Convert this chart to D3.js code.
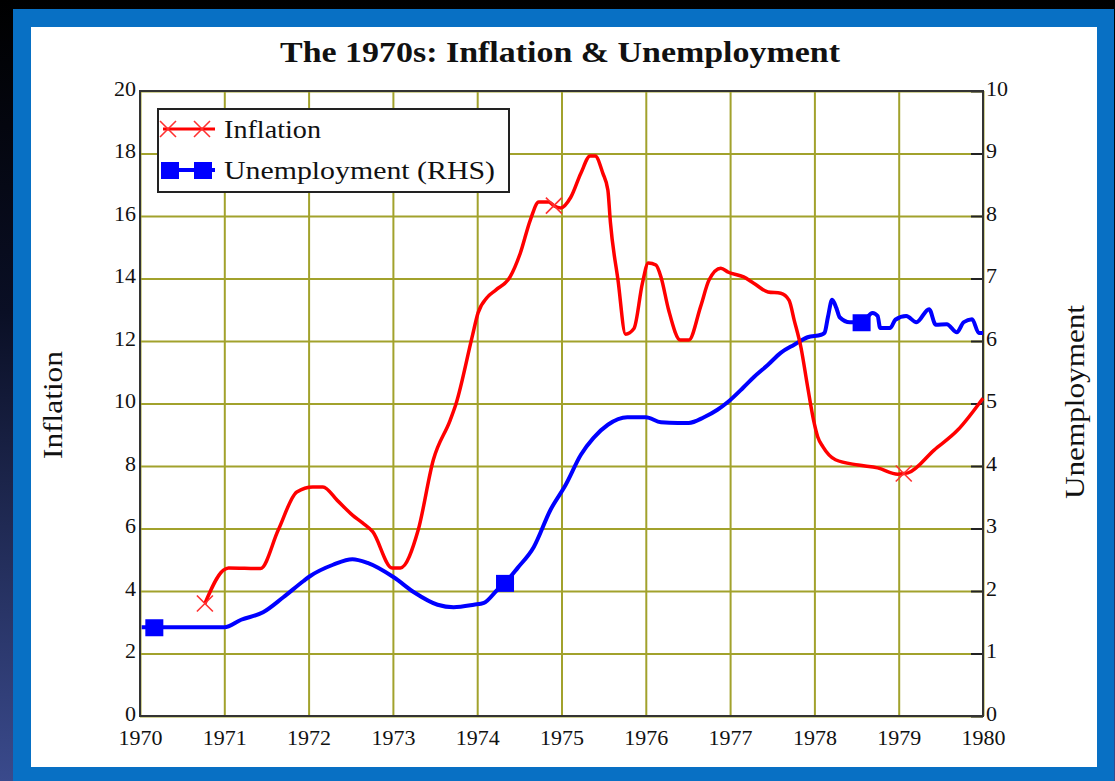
<!DOCTYPE html>
<html>
<head>
<meta charset="utf-8">
<script src="https://cdn.jsdelivr.net/npm/d3@7"></script>
<style>
  body { margin: 0; background: #000; }
  text { font-family: "Liberation Serif", "Times New Roman", serif; fill: #111; }
</style>
</head>
<body>
<div id="chart"></div>
<script>
// inflation (%)
const inflYears = [1970.77, 1970.99, 1971.05, 1971.43, 1971.64, 1971.86, 1972.05, 1972.17, 1972.34, 1972.52,
    1972.64, 1972.76, 1972.99, 1973.09, 1973.30, 1973.48, 1973.68, 1973.75, 1973.94, 1974.01,
    1974.12, 1974.22, 1974.39, 1974.51, 1974.63, 1974.73, 1974.85, 1974.91, 1974.99, 1975.11,
    1975.23, 1975.34, 1975.40, 1975.49, 1975.55, 1975.58, 1975.67, 1975.76, 1975.86, 1975.96,
    1976.03, 1976.12, 1976.18, 1976.27, 1976.41, 1976.51, 1976.65, 1976.75, 1976.89, 1976.98,
    1977.16, 1977.28, 1977.45, 1977.60, 1977.70, 1977.76, 1977.84, 1977.92, 1977.99, 1978.04,
    1978.10, 1978.25, 1978.52, 1978.75, 1978.99, 1979.06, 1979.11, 1979.42, 1979.70, 1980.0];
const inflValues = [3.6, 4.67, 4.74, 4.72, 5.95, 7.17, 7.33, 7.33, 6.9, 6.43,
    6.18, 5.9, 4.74, 4.74, 5.95, 8.2, 9.47, 10.0, 12.13, 12.9,
    13.4, 13.63, 14.05, 14.8, 15.87, 16.45, 16.45, 16.33, 16.26, 16.6,
    17.37, 17.92, 17.92, 17.37, 16.83, 15.8, 13.95, 12.22, 12.4, 13.85,
    14.5, 14.43, 14.05, 13.0, 12.03, 12.03, 13.1, 13.95, 14.33, 14.2,
    14.05, 13.85, 13.57, 13.53, 13.3, 12.67, 11.8, 10.53, 9.47, 8.93,
    8.62, 8.2, 8.03, 7.94, 7.74, 7.76, 7.78, 8.51, 9.15, 10.17];
const inflMarks = [1970.77, 1974.91, 1979.06];

// unemployment (%), right-hand scale
const unempYears = [1970.02, 1970.17, 1971.0, 1971.2, 1971.46, 1971.70, 1971.94, 1972.02, 1972.29, 1972.52,
    1972.70, 1973.01, 1973.25, 1973.53, 1973.72, 1973.96, 1974.08, 1974.24, 1974.33, 1974.48,
    1974.67, 1974.87, 1975.05, 1975.23, 1975.38, 1975.55, 1975.78, 1976.0, 1976.18, 1976.38,
    1976.51, 1976.69, 1976.85, 1976.97, 1977.16, 1977.28, 1977.45, 1977.60, 1977.76, 1977.92,
    1978.08, 1978.12, 1978.16, 1978.21, 1978.26, 1978.30, 1978.42, 1978.56, 1978.69, 1978.75,
    1978.78, 1978.90, 1978.96, 1979.09, 1979.21, 1979.36, 1979.44, 1979.57, 1979.69, 1979.77,
    1979.87, 1979.95, 1980.0];
const unempValues = [1.42, 1.42, 1.42, 1.54, 1.66, 1.9, 2.16, 2.24, 2.42, 2.51,
    2.45, 2.22, 1.98, 1.78, 1.74, 1.78, 1.81, 2.02, 2.13, 2.37,
    2.7, 3.3, 3.7, 4.18, 4.45, 4.66, 4.78, 4.78, 4.70, 4.69,
    4.69, 4.78, 4.9, 5.02, 5.26, 5.42, 5.62, 5.81, 5.94, 6.06,
    6.1, 6.13, 6.38, 6.66, 6.53, 6.38, 6.3, 6.3, 6.45, 6.4,
    6.21, 6.21, 6.34, 6.4, 6.3, 6.51, 6.26, 6.27, 6.14, 6.3,
    6.35, 6.13, 6.13];
const unempMarks = [1970.17, 1974.33, 1978.56];

const yearTicks = d3.range(1970, 1981);
const inflTicks = d3.range(0, 21, 2);
const unempTicks = d3.range(0, 11, 1);

const W = 1115, H = 781;
const margin = { top: 91, left: 140, bottom: 65, right: 132 };
const width = W - margin.left - margin.right;
const height = H - margin.top - margin.bottom;

const root = d3.select('#chart').append('svg')
    .attr('width', W)
    .attr('height', H);

// backdrop + blue frame
const bg = root.append('defs').append('linearGradient')
    .attr('id', 'bg').attr('x1', 0).attr('y1', 0).attr('x2', 0).attr('y2', 1);
bg.append('stop').attr('offset', '0%').attr('stop-color', '#000');
bg.append('stop').attr('offset', '40%').attr('stop-color', '#0a0f25');
bg.append('stop').attr('offset', '100%').attr('stop-color', '#3a4a8c');
root.append('rect').attr('width', W).attr('height', H).attr('fill', 'url(#bg)');
root.append('rect').attr('x', 13).attr('y', 9).attr('width', 1101).attr('height', 772).attr('fill', '#0870c4');
root.append('rect').attr('x', 31).attr('y', 27).attr('width', 1066).attr('height', 740).attr('fill', '#fff');

root.append('text')
    .attr('x', 280).attr('y', 62)
    .attr('textLength', 560).attr('lengthAdjust', 'spacingAndGlyphs')
    .style('font-size', '30px').style('font-weight', 'bold')
    .text('The 1970s: Inflation & Unemployment');

const svg = root.append('g')
    .attr('transform', `translate(${margin.left}, ${margin.top})`);

const x = d3.scaleLinear().domain([1970, 1980]).range([0, width]);
const yL = d3.scaleLinear().domain([0, 20]).range([height, 0]);
const yR = d3.scaleLinear().domain([0, 10]).range([height, 0]);

const gridColor = '#a2a22c';

// grid
svg.append('g')
    .attr('transform', `translate(0, ${height})`)
    .call(d3.axisBottom(x).tickValues(yearTicks).tickSize(-height).tickFormat(''))
    .call(g => g.select('.domain').remove())
    .call(g => g.selectAll('line').attr('stroke', gridColor).attr('stroke-width', 2));
svg.append('g')
    .call(d3.axisLeft(yL).tickValues(inflTicks).tickSize(-width).tickFormat(''))
    .call(g => g.select('.domain').remove())
    .call(g => g.selectAll('line').attr('stroke', gridColor).attr('stroke-width', 2));

// black inward ticks on the right axis
svg.append('g')
    .attr('transform', `translate(${width}, 0)`)
    .call(d3.axisRight(yR).tickValues(unempTicks).tickSize(-12).tickFormat(''))
    .call(g => g.select('.domain').remove())
    .call(g => g.selectAll('line').attr('stroke', '#222').attr('stroke-width', 2));

svg.append('rect')
    .attr('width', width).attr('height', height)
    .attr('fill', 'none').attr('stroke', '#333').attr('stroke-width', 2);

// tick labels
const styleLabels = g => {
    g.select('.domain').remove();
    g.selectAll('line').remove();
    g.selectAll('text').style('font-size', '22px').attr('fill', '#111');
};
svg.append('g')
    .attr('transform', `translate(0, ${height})`)
    .call(d3.axisBottom(x).tickValues(yearTicks).tickFormat(d3.format('d')).tickSize(0).tickPadding(13))
    .call(styleLabels);
svg.append('g')
    .call(d3.axisLeft(yL).tickValues(inflTicks).tickSize(0).tickPadding(4))
    .call(styleLabels)
    .call(g => g.selectAll('text').attr('dy', '0.2em'));
svg.append('g')
    .attr('transform', `translate(${width}, 0)`)
    .call(d3.axisRight(yR).tickValues(unempTicks).tickSize(0).tickPadding(3))
    .call(styleLabels)
    .call(g => g.selectAll('text').attr('dy', '0.2em'));

// axis titles
root.append('text')
    .attr('transform', 'translate(62, 405) rotate(-90)')
    .attr('text-anchor', 'middle')
    .attr('textLength', 108).attr('lengthAdjust', 'spacingAndGlyphs')
    .style('font-size', '27px')
    .text('Inflation');
root.append('text')
    .attr('transform', 'translate(1084, 402) rotate(-90)')
    .attr('text-anchor', 'middle')
    .attr('textLength', 194).attr('lengthAdjust', 'spacingAndGlyphs')
    .style('font-size', '27px')
    .text('Unemployment');

// series
const infl = inflYears.map((d, i) => ({ year: d, value: inflValues[i] }));
const unemp = unempYears.map((d, i) => ({ year: d, value: unempValues[i] }));

svg.append('path')
    .datum(unemp)
    .attr('fill', 'none')
    .attr('stroke', '#0000ff')
    .attr('stroke-width', 4)
    .attr('stroke-linejoin', 'round')
    .attr('d', d3.line().curve(d3.curveMonotoneX).x(d => x(d.year)).y(d => yR(d.value)));

svg.append('path')
    .datum(infl)
    .attr('fill', 'none')
    .attr('stroke', '#ff0000')
    .attr('stroke-width', 3.5)
    .attr('stroke-linejoin', 'round')
    .attr('d', d3.line().curve(d3.curveMonotoneX).x(d => x(d.year)).y(d => yL(d.value)));

const cross = s => `M${-s},${-s}L${s},${s}M${-s},${s}L${s},${-s}`;

svg.selectAll('.umark')
    .data(unemp.filter(d => unempMarks.includes(d.year)))
    .join('rect')
        .attr('x', d => x(d.year) - 9)
        .attr('y', d => yR(d.value) - 8)
        .attr('width', 18).attr('height', 17)
        .attr('fill', '#0000ff');

svg.selectAll('.imark')
    .data(infl.filter(d => inflMarks.includes(d.year)))
    .join('path')
        .attr('transform', d => `translate(${x(d.year)}, ${yL(d.value)})`)
        .attr('d', cross(8))
        .attr('stroke', '#ff3030')
        .attr('stroke-width', 1.6);

// legend
const legend = root.append('g').attr('transform', 'translate(158, 109)');
legend.append('rect')
    .attr('width', 351).attr('height', 83)
    .attr('fill', '#fff').attr('stroke', '#222').attr('stroke-width', 2);
legend.append('line')
    .attr('x1', 5).attr('x2', 57).attr('y1', 20).attr('y2', 20)
    .attr('stroke', '#ff0000').attr('stroke-width', 3);
[10, 44].forEach(cx => legend.append('path')
    .attr('transform', `translate(${cx}, 20)`)
    .attr('d', cross(8))
    .attr('stroke', '#ff3030').attr('stroke-width', 1.6));
legend.append('line')
    .attr('x1', 5).attr('x2', 57).attr('y1', 61).attr('y2', 61)
    .attr('stroke', '#0000ff').attr('stroke-width', 4);
[12, 45].forEach(cx => legend.append('rect')
    .attr('x', cx - 9).attr('y', 53).attr('width', 18).attr('height', 17)
    .attr('fill', '#0000ff'));
legend.append('text').attr('x', 66).attr('y', 29)
    .attr('textLength', 97).attr('lengthAdjust', 'spacingAndGlyphs')
    .style('font-size', '26px').text('Inflation');
legend.append('text').attr('x', 66).attr('y', 70)
    .attr('textLength', 271).attr('lengthAdjust', 'spacingAndGlyphs')
    .style('font-size', '26px').text('Unemployment (RHS)');
</script>
</body>
</html>
